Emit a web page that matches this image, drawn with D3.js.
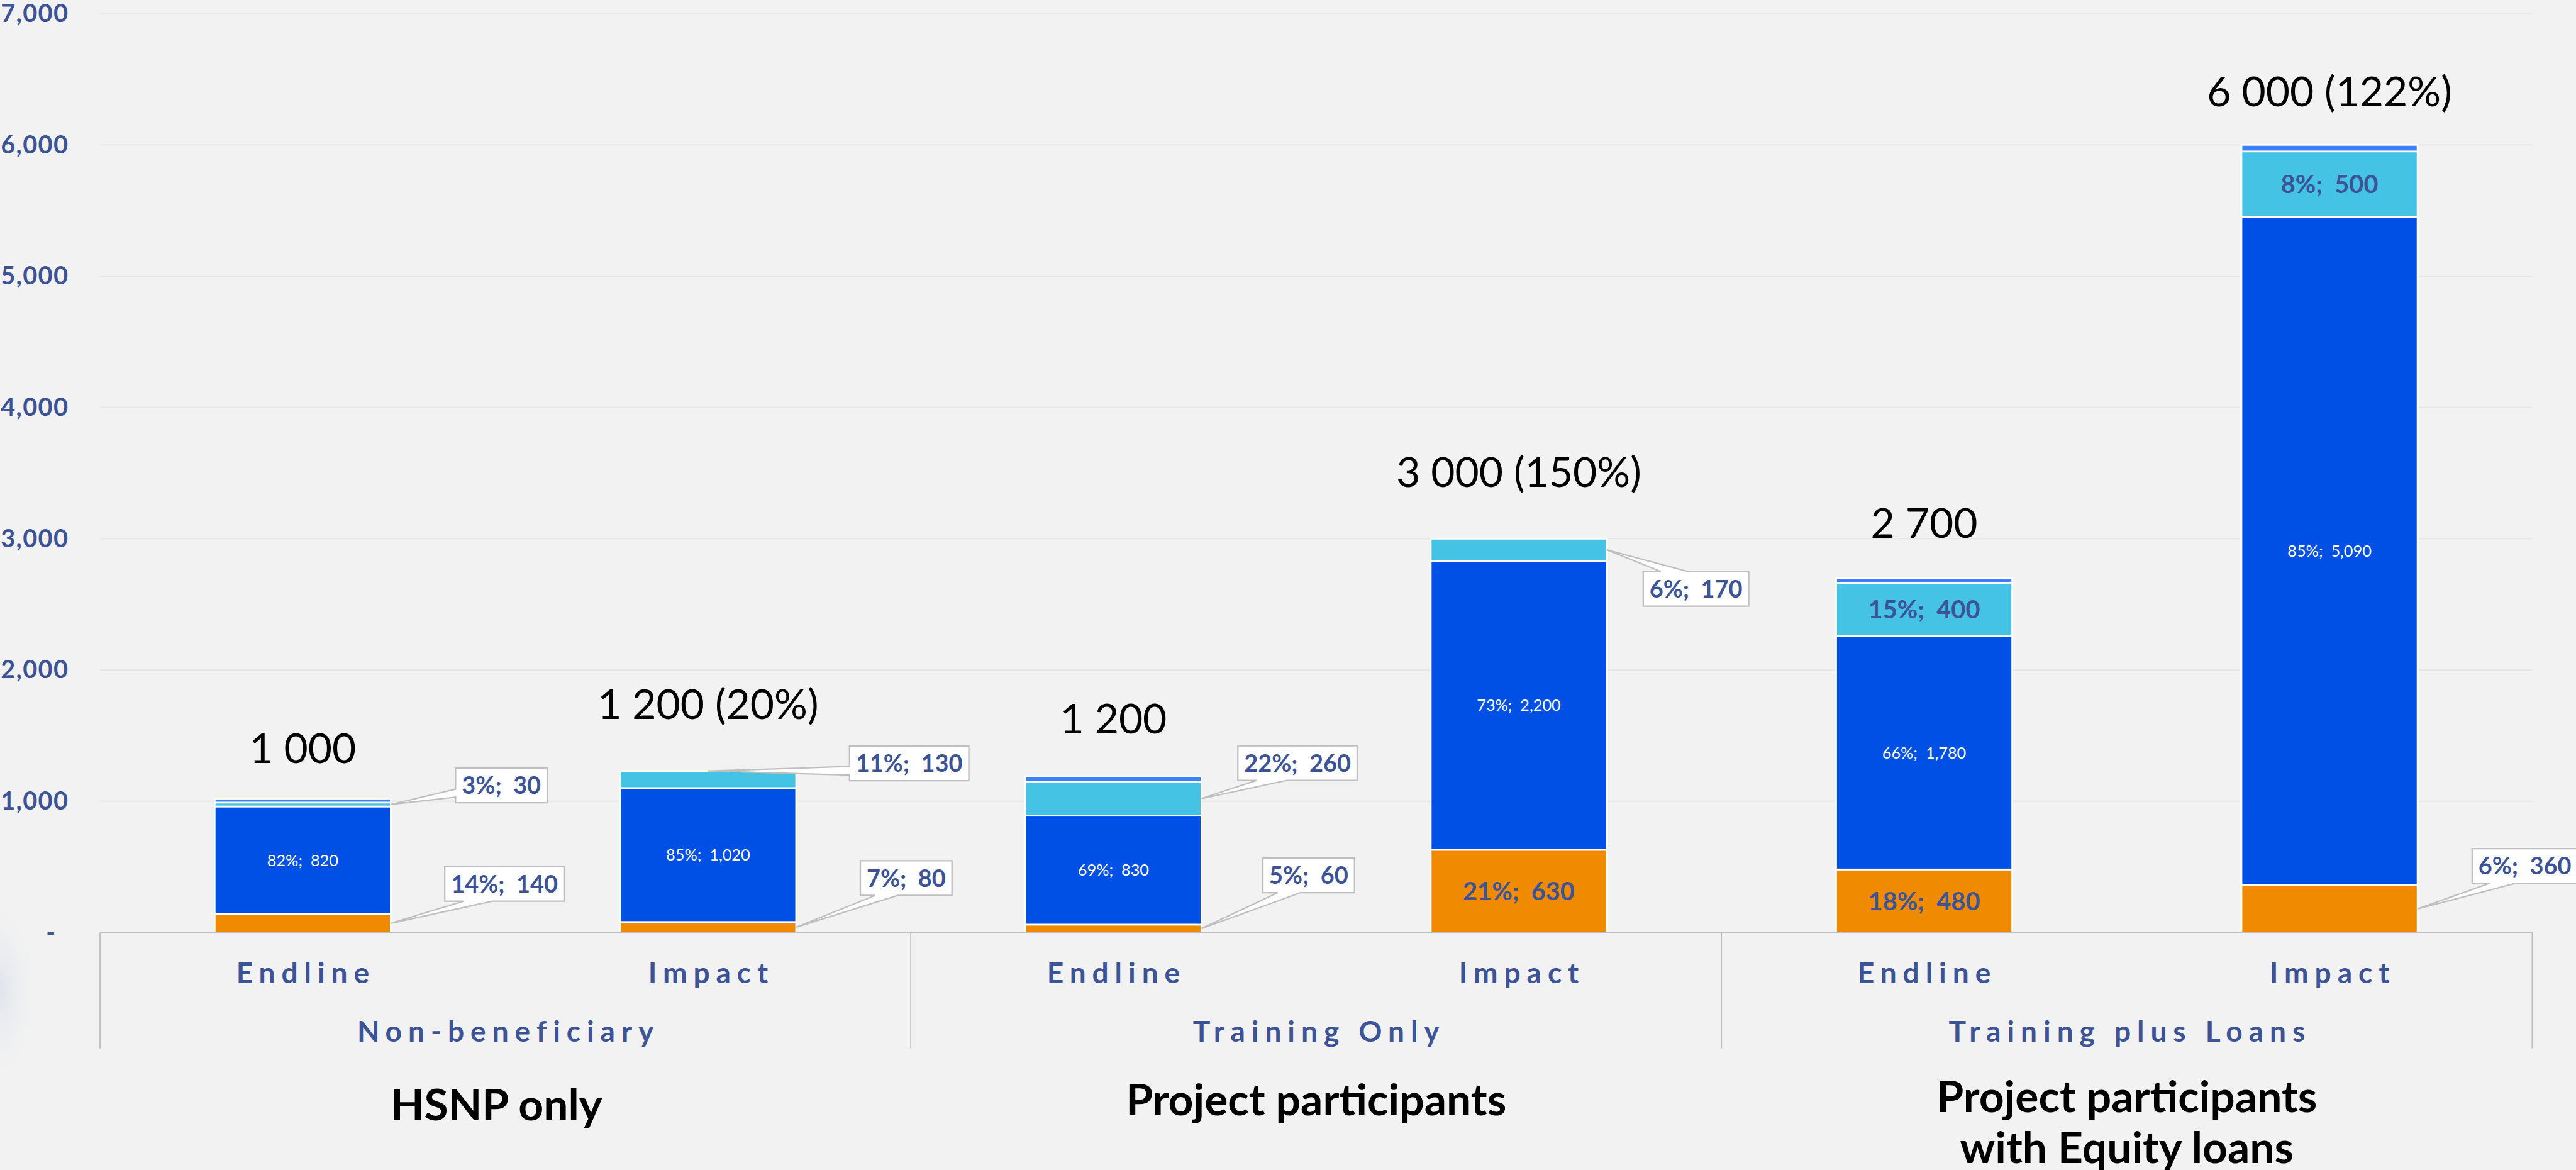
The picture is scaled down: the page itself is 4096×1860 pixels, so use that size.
<!DOCTYPE html>
<html>
<head>
<meta charset="utf-8">
<script src="https://cdn.jsdelivr.net/npm/d3@7"></script>
<style>
  html, body { margin: 0; padding: 0; background: #F2F2F2; overflow: hidden; }
  svg { display: block; }
</style>
</head>
<body>
<svg id="chart" width="4096" height="1860" viewBox="0 0 4534 2059"></svg>
<script>
// ---- data ----
const categories  = ["Endline", "Impact", "Endline", "Impact", "Endline", "Impact"];
const groups      = ["Non-beneficiary", "Training Only", "Training plus Loans"];
const groupTitles = [["HSNP only"], ["Project participants"], ["Project participants", "with Equity loans"]];

// stacked segments, bottom to top
const baseValues  = [140, 80, 60, 630, 480, 360];
const mainValues  = [820, 1020, 830, 2200, 1780, 5090];
const upperValues = [30, 130, 260, 170, 400, 500];
const capValues   = [30, 0, 40, 0, 40, 50];

const basePct  = [14, 7, 5, 21, 18, 6];
const mainPct  = [82, 85, 69, 73, 66, 85];
const upperPct = [3, 11, 22, 6, 15, 8];

const totalLabels = ["1 000", "1 200 (20%)", "1 200", "3 000 (150%)", "2 700", "6 000 (122%)"];
const yTicks = [0, 1000, 2000, 3000, 4000, 5000, 6000, 7000];

// ---- layout ----
const FONT = "Lato, 'Noto Sans', 'DejaVu Sans', sans-serif";
const LABEL_BLUE = "#3C5497";
const plot = { left: 176, right: 4457, top: 24, bottom: 1641 };
const colors = { base: "#F08A00", main: "#0050E6", upper: "#45C3E5", cap: "#3D80FF" };
const keys = ["base", "main", "upper", "cap"];
const pcts = { base: basePct, main: mainPct, upper: upperPct };

const totalGap = [63, 92, 75, 91, 71, 68];          // space between bar top and total label
const titleBaselines = [[1972], [1963], [1957, 2047]];

// boxed callouts: offset of the box from the pointer tip, side carrying the wedge
const callouts = [
  { i: 0, key: "upper", anchor: "edge", dx: 114, dy: -64,  side: "left",   w0: 37, w1: 51 },
  { i: 0, key: "base",  anchor: "edge", dx: 95,  dy: -100, side: "bottom", w0: 33, w1: 84 },
  { i: 1, key: "upper", anchor: "top",  dx: 249, dy: -44,  side: "left",   w0: 36, w1: 51 },
  { i: 1, key: "base",  anchor: "edge", dx: 113, dy: -117, side: "bottom", w0: 26, w1: 66 },
  { i: 2, key: "upper", anchor: "edge", dx: 64,  dy: -93,  side: "bottom", w0: 33, w1: 86 },
  { i: 2, key: "base",  anchor: "edge", dx: 108, dy: -124, side: "bottom", w0: 26, w1: 66 },
  { i: 3, key: "upper", anchor: "edge", dx: 64,  dy: 38,   side: "top",    w0: 31, w1: 78 },
  { i: 5, key: "base",  anchor: "edge", dx: 96,  dy: -106, side: "bottom", w0: 31, w1: 77 }
];
// bold labels drawn inside their segment
const insideLabels = [
  { i: 3, key: "base" }, { i: 4, key: "base" }, { i: 4, key: "upper" }, { i: 5, key: "upper" }
];

const svg = d3.select("#chart");
const fmt = d3.format(",");
const segText = (key, i, v) => `${pcts[key][i]}%;\u00A0\u00A0${fmt(v)}`;

// faint shading along the left edge
const defs = svg.append("defs");
const rg = defs.append("radialGradient").attr("id", "edgeShade");
rg.append("stop").attr("offset", "0%").attr("stop-color", "#DCE0EA").attr("stop-opacity", 0.8);
rg.append("stop").attr("offset", "100%").attr("stop-color", "#F2F2F2").attr("stop-opacity", 0);
svg.append("rect").attr("width", 4534).attr("height", 2059).attr("fill", "#F2F2F2");
svg.append("ellipse").attr("cx", 0).attr("cy", 1742).attr("rx", 70).attr("ry", 170)
  .attr("fill", "url(#edgeShade)");

// ---- scales ----
const idx = d3.range(categories.length);
const x = d3.scaleBand().domain(idx).range([plot.left, plot.right])
  .paddingInner(0.5655).paddingOuter(0.5655 / 2);
const y = d3.scaleLinear().domain([0, 7000]).range([plot.bottom, plot.top]);

const rows = idx.map(i => ({
  base: baseValues[i], main: mainValues[i], upper: upperValues[i], cap: capValues[i]
}));
const stacked = d3.stack().keys(keys)(rows);
const seg = {};
stacked.forEach(s => { seg[s.key] = s; });

// gridlines
svg.append("g").selectAll("line")
  .data(yTicks.filter(t => t > 0))
  .join("line")
  .attr("x1", plot.left).attr("x2", plot.right)
  .attr("y1", d => y(d)).attr("y2", d => y(d))
  .attr("stroke", "#E6E6E6").attr("stroke-width", 2);

// y axis
const yAxis = svg.append("g")
  .attr("transform", `translate(${plot.left},0)`)
  .call(d3.axisLeft(y).tickValues(yTicks).tickSize(0).tickPadding(55)
    .tickFormat(d => d === 0 ? "-" : fmt(d)));
yAxis.select(".domain").remove();
yAxis.selectAll("text")
  .attr("font-family", FONT).attr("font-weight", 700).attr("font-size", 44)
  .attr("letter-spacing", 1.5)
  .attr("fill", LABEL_BLUE);
yAxis.selectAll(".tick").filter(d => d === 0).select("text")
  .attr("x", 90 - plot.left).attr("text-anchor", "middle");

// bars
svg.append("g").selectAll("g")
  .data(stacked)
  .join("g")
  .attr("fill", d => colors[d.key])
  .selectAll("rect")
  .data(d => d.map((p, i) => ({ p, i })).filter(o => o.p[1] - o.p[0] > 0))
  .join("rect")
  .attr("x", o => x(o.i))
  .attr("width", x.bandwidth())
  .attr("y", o => y(o.p[1]))
  .attr("height", o => y(o.p[0]) - y(o.p[1]))
  .attr("stroke", "#FFFFFF").attr("stroke-width", 3);

// category axis frame
const axisG = svg.append("g").attr("stroke", "#BFBFBF").attr("stroke-width", 2.5);
axisG.append("line").attr("x1", plot.left).attr("x2", plot.right)
  .attr("y1", plot.bottom).attr("y2", plot.bottom);
const groupW = (plot.right - plot.left) / groups.length;
axisG.selectAll("line.sep")
  .data(d3.range(groups.length + 1))
  .join("line").attr("class", "sep")
  .attr("x1", g => plot.left + g * groupW).attr("x2", g => plot.left + g * groupW)
  .attr("y1", plot.bottom).attr("y2", 1845)
  .attr("stroke-width", 2);

// category labels
const LS = 11;
svg.append("g").selectAll("text")
  .data(idx)
  .join("text")
  .attr("x", i => x(i) + x.bandwidth() / 2 + LS / 2)
  .attr("y", 1730)
  .attr("text-anchor", "middle")
  .attr("font-family", FONT).attr("font-weight", 700).attr("font-size", 51)
  .attr("letter-spacing", LS)
  .attr("fill", LABEL_BLUE)
  .text(i => categories[i]);

svg.append("g").selectAll("text")
  .data(groups)
  .join("text")
  .attr("x", (d, g) => plot.left + (g + 0.5) * groupW + LS / 2)
  .attr("y", 1833)
  .attr("text-anchor", "middle")
  .attr("font-family", FONT).attr("font-weight", 700).attr("font-size", 51)
  .attr("letter-spacing", LS)
  .attr("fill", LABEL_BLUE)
  .text(d => d);

// group titles beneath the axis
groupTitles.forEach((lines, g) => {
  svg.append("text")
    .attr("text-anchor", "middle")
    .attr("font-family", FONT).attr("font-weight", 700).attr("font-size", 77)
    .attr("fill", "#000000")
    .selectAll("tspan")
    .data(lines)
    .join("tspan")
    .attr("x", plot.left + (g + 0.5) * groupW - (g === 0 ? 16 : 0))
    .attr("y", (d, k) => titleBaselines[g][k])
    .text(d => d);
});

// totals above the bars
const topOf = i => seg.cap[i][1];
svg.append("g").selectAll("text")
  .data(idx)
  .join("text")
  .attr("x", i => x(i) + x.bandwidth() / 2)
  .attr("y", i => y(topOf(i)) - totalGap[i])
  .attr("text-anchor", "middle")
  .attr("font-family", FONT).attr("font-weight", 400).attr("font-size", 73)
  .attr("fill", "#000000")
  .text(i => totalLabels[i]);

// white labels in the main segment
svg.append("g").selectAll("text")
  .data(idx)
  .join("text")
  .attr("x", i => x(i) + x.bandwidth() / 2)
  .attr("y", i => y((seg.main[i][0] + seg.main[i][1]) / 2) + 28 * 0.36)
  .attr("text-anchor", "middle")
  .attr("font-family", FONT).attr("font-weight", 400).attr("font-size", 28)
  .attr("fill", "#FFFFFF")
  .text(i => segText("main", i, mainValues[i]));

// bold labels inside segments
const valueOf = (key, i) => rows[i][key];
svg.append("g").selectAll("text")
  .data(insideLabels)
  .join("text")
  .attr("x", d => x(d.i) + x.bandwidth() / 2)
  .attr("y", d => y((seg[d.key][d.i][0] + seg[d.key][d.i][1]) / 2) + 44 * 0.36)
  .attr("text-anchor", "middle")
  .attr("font-family", FONT).attr("font-weight", 700).attr("font-size", 44)
  .attr("fill", LABEL_BLUE)
  .text(d => segText(d.key, d.i, valueOf(d.key, d.i)));

// boxed callouts with a pointer wedge
const BOX_H = 61, PAD = 11, CFS = 42;
const cg = svg.append("g");
callouts.forEach(c => {
  const s = seg[c.key][c.i];
  const tip = c.anchor === "top"
    ? [x(c.i) + x.bandwidth() / 2, y(s[1])]
    : [x(c.i) + x.bandwidth(), y((s[0] + s[1]) / 2)];
  const g = cg.append("g");
  const t = g.append("text")
    .attr("font-family", FONT).attr("font-weight", 700).attr("font-size", CFS)
    .attr("fill", LABEL_BLUE).attr("text-anchor", "middle")
    .text(segText(c.key, c.i, valueOf(c.key, c.i)));
  const w = t.node().getComputedTextLength() + 2 * PAD;
  const bx = tip[0] + c.dx, by = tip[1] + c.dy;
  const L = bx, R = bx + w, T = by, B = by + BOX_H;
  let p = `M${L},${T}`;
  if (c.side === "top") p += `L${L + c.w0},${T}L${tip[0]},${tip[1]}L${L + c.w1},${T}`;
  p += `L${R},${T}L${R},${B}`;
  if (c.side === "bottom") p += `L${L + c.w1},${B}L${tip[0]},${tip[1]}L${L + c.w0},${B}`;
  p += `L${L},${B}`;
  if (c.side === "left") p += `L${L},${T + c.w1}L${tip[0]},${tip[1]}L${L},${T + c.w0}`;
  p += "Z";
  g.insert("path", "text").attr("d", p)
    .attr("fill", "#FFFFFF").attr("stroke", "#BFBFBF").attr("stroke-width", 2.5)
    .attr("stroke-linejoin", "miter");
  t.attr("x", bx + w / 2).attr("y", by + BOX_H / 2 + CFS * 0.36);
});
</script>
</body>
</html>
